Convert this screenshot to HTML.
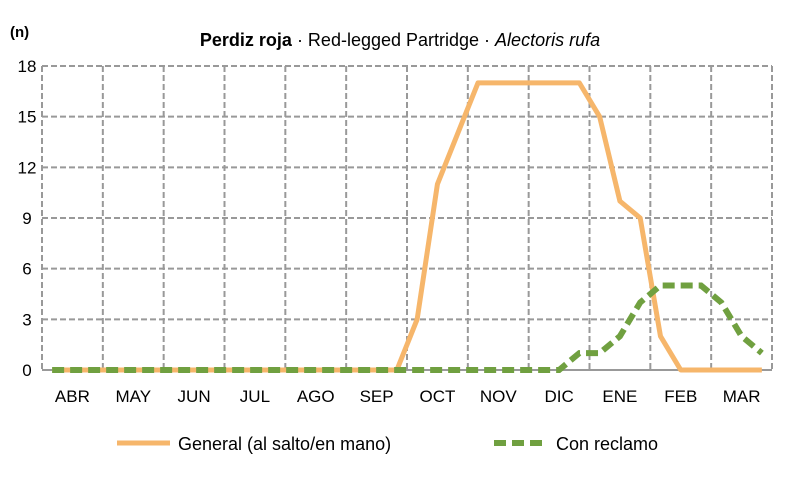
<!DOCTYPE html>
<html><head><meta charset="utf-8"><style>
body{margin:0;background:#fff;}
svg text{font-family:"Liberation Sans",sans-serif;fill:#000;}
</style></head><body>
<svg id="chart" width="800" height="483" viewBox="0 0 800 483">
<text x="10" y="37" font-size="15" font-weight="bold">(n)</text>
<text x="400" y="46" font-size="18" text-anchor="middle"><tspan font-weight="bold">Perdiz roja</tspan> · Red-legged Partridge · <tspan font-style="italic">Alectoris rufa</tspan></text>
<g id="grid"></g>
<g id="ylabels"></g>
<g id="xlabels"></g>
<g id="series"></g>
<g>
<line x1="117" y1="443" x2="170" y2="443" stroke="#F6B66B" stroke-width="5"/>
<text x="178" y="450" font-size="18">General (al salto/en mano)</text>
<line x1="494" y1="443" x2="547" y2="443" stroke="#70A040" stroke-width="6" stroke-dasharray="12,6"/>
<text x="556" y="450" font-size="18">Con reclamo</text>
</g>
</svg>
<script>
const months=["ABR","MAY","JUN","JUL","AGO","SEP","OCT","NOV","DIC","ENE","FEB","MAR"];
const yTicks=[0,3,6,9,12,15,18];
const general=[0,0,0,0,0,0,0,0,0,0,0,0,0,0,0,0,0,0,3,11,14,17,17,17,17,17,17,15,10,9,2,0,0,0,0,0];
const reclamo=[0,0,0,0,0,0,0,0,0,0,0,0,0,0,0,0,0,0,0,0,0,0,0,0,0,0,1,1,2,4,5,5,5,4,2,1];
const NS="http://www.w3.org/2000/svg";
const X0=42,X1=772,Y0=370,Y1=66,YMAX=18;
const y=v=>Y0-(v/YMAX)*(Y0-Y1);
const n=general.length;
const x=i=>X0+(i+0.5)*(X1-X0)/n;
const mx=m=>X0+m*(X1-X0)/months.length;
function mk(t,a,p){const e=document.createElementNS(NS,t);for(const k in a)e.setAttribute(k,a[k]);p.appendChild(e);return e;}
const grid=document.getElementById('grid');
yTicks.forEach(v=>{const l=mk('line',{x1:X0,x2:X1,y1:y(v),y2:y(v),stroke:'#999','stroke-width':2,'stroke-dasharray':v===0?'none':'6,3'},grid);

});
for(let m=0;m<=months.length;m++){const l=mk('line',{x1:mx(m),x2:mx(m),y1:Y1,y2:Y0,stroke:'#999','stroke-width':2,'stroke-dasharray':'6,3'},grid);

}
const yl=document.getElementById('ylabels');
yTicks.forEach(v=>{const t=mk('text',{x:27,y:y(v)+6,'font-size':17,'text-anchor':'middle'},yl);t.textContent=v;

});
const xl=document.getElementById('xlabels');
months.forEach((m,i)=>{const t=mk('text',{x:(mx(i)+mx(i+1))/2,y:402,'font-size':17,'text-anchor':'middle'},xl);t.textContent=m;

});
const s=document.getElementById('series');
const pg=mk('polyline',{points:general.map((v,i)=>x(i)+','+y(v)).join(' '),fill:'none',stroke:'#F6B66B','stroke-width':5,'stroke-linejoin':'round'},s);


const pr=mk('polyline',{points:reclamo.map((v,i)=>x(i)+','+y(v)).join(' '),fill:'none',stroke:'#70A040','stroke-width':6,'stroke-dasharray':'12,6'},s);


</script>
</body></html>
